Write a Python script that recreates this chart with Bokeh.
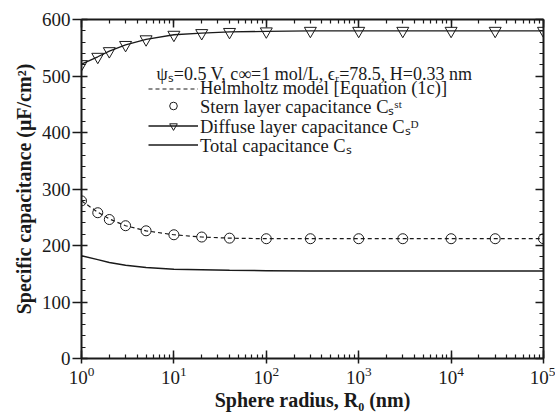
from bokeh.plotting import figure
from bokeh.models import (Range1d, LinearAxis, FixedTicker, Legend, LegendItem, Label,
                          CustomJSTickFormatter)
from bokeh.embed import file_html
from bokeh.resources import INLINE

# ---- data ----
radius = [1, 1.5, 2, 3, 5, 10, 20, 40, 100, 300, 1000, 3000, 10000, 30000, 100000]
helmholtz = [279, 259, 247, 235, 226, 219, 215, 213, 212, 212, 212, 212, 212, 212, 212]
stern = [279, 258, 246, 235, 226, 219, 215, 213, 212, 212, 212, 212, 212, 212, 212]
diffuse = [521, 534, 544, 555, 565, 573, 576, 578, 579, 580, 580, 580, 580, 580, 580]
total = [182, 175, 170, 165, 161, 158, 157, 156, 155.5, 155, 155, 155, 155, 155, 155]

x_major = [1, 10, 100, 1000, 10000, 100000]
x_minor = [m * d for d in [1, 10, 100, 1000, 10000] for m in range(1, 10)] + [100000]
y_major = [0, 100, 200, 300, 400, 500, 600]
y_minor = list(range(0, 601, 20))

header = "ψₛ=0.5 V, c∞=1 mol/L, ϵᵣ=78.5, H=0.33 nm"
labels = ["Helmholtz model [Equation (1c)]",
          "Stern layer capacitance Cₛˢᵗ",
          "Diffuse layer capacitance Cₛᴰ",
          "Total capacitance Cₛ"]
x_title = "Sphere radius, R₀ (nm)"
y_title = "Specific capacitance (μF/cm²)"

FONT = "Liberation Serif"
INK = "#1a1a1a"

p = figure(width=555, height=413, x_axis_type="log",
           x_range=Range1d(1, 1e5), y_range=Range1d(0, 600),
           output_backend="svg", toolbar_location=None,
           min_border_left=81, min_border_right=12, min_border_top=19, min_border_bottom=54)
p.xgrid.visible = False
p.ygrid.visible = False
p.outline_line_color = None
p.background_fill_color = "white"
p.border_fill_color = "white"

r_h = p.line(radius, helmholtz, line_color=INK, line_width=1.2, line_dash="4 3")
r_s = p.scatter(radius, stern, marker="circle", size=10, fill_color=None, line_color=INK, line_width=1)
r_dl = p.line(radius, diffuse, line_color=INK, line_width=1.3)
r_dm = p.scatter(radius, diffuse, marker="inverted_triangle", size=12, fill_color=None, line_color=INK, line_width=1)
r_t = p.line(radius, total, line_color=INK, line_width=1.5)

def style(ax, tick_out=0, tick_in=7):
    ax.axis_line_width = 2
    ax.axis_line_color = INK
    ax.major_tick_line_color = INK
    ax.minor_tick_line_color = INK
    ax.major_tick_line_width = 1.5
    ax.minor_tick_line_width = 1.2
    ax.major_tick_in = tick_in
    ax.major_tick_out = tick_out
    ax.minor_tick_in = 4
    ax.minor_tick_out = 0
    ax.major_label_text_font = FONT
    ax.major_label_text_font_size = "19px"
    ax.major_label_text_color = INK
    ax.axis_label_text_font = FONT
    ax.axis_label_text_font_style = "bold"
    ax.axis_label_text_font_size = "20px"
    ax.axis_label_text_color = INK

xa = p.xaxis[0]
xa.ticker = FixedTicker(ticks=x_major, minor_ticks=x_minor)
style(xa, tick_out=5, tick_in=8)
xa.major_label_standoff = 3
xa.axis_label = x_title
xa.axis_label_standoff = 2

ya = p.yaxis[0]
ya.ticker = FixedTicker(ticks=y_major, minor_ticks=y_minor)
style(ya, tick_out=9, tick_in=6)
ya.major_label_standoff = 2
ya.axis_label = y_title
ya.axis_label_standoff = 4

top = LinearAxis(ticker=FixedTicker(ticks=x_major, minor_ticks=x_minor),
                 formatter=CustomJSTickFormatter(code="return ''"))
style(top, tick_out=0, tick_in=8)
top.major_label_text_font_size = "1px"
top.major_label_standoff = 0
p.add_layout(top, "above")
right = LinearAxis(ticker=FixedTicker(ticks=y_major, minor_ticks=y_minor),
                   formatter=CustomJSTickFormatter(code="return ''"))
style(right, tick_out=0, tick_in=8)
right.major_label_text_font_size = "1px"
right.major_label_standoff = 0
p.add_layout(right, "right")

# legend: one row per Legend so that row spacing is exact
rows = [[r_h], [r_s], [r_dl, r_dm], [r_t]]
row_y = [259, 240, 220, 201]
for lab, rends, ry in zip(labels, rows, row_y):
    lg = Legend(items=[LegendItem(label=lab, renderers=rends)],
                location=(67, ry), glyph_width=50, glyph_height=19, label_height=19,
                spacing=0, padding=0, margin=0, label_standoff=2,
                label_text_font=FONT, label_text_font_size="18.5px", label_text_color=INK,
                border_line_color=None, background_fill_alpha=0)
    p.add_layout(lg, "center")

p.add_layout(Label(x=75, y=285, x_units="screen", y_units="screen", text=header,
                   text_font=FONT, text_font_size="18px", text_color=INK,
                   text_baseline="middle"))

open("out.html", "w").write(file_html(p, INLINE))
